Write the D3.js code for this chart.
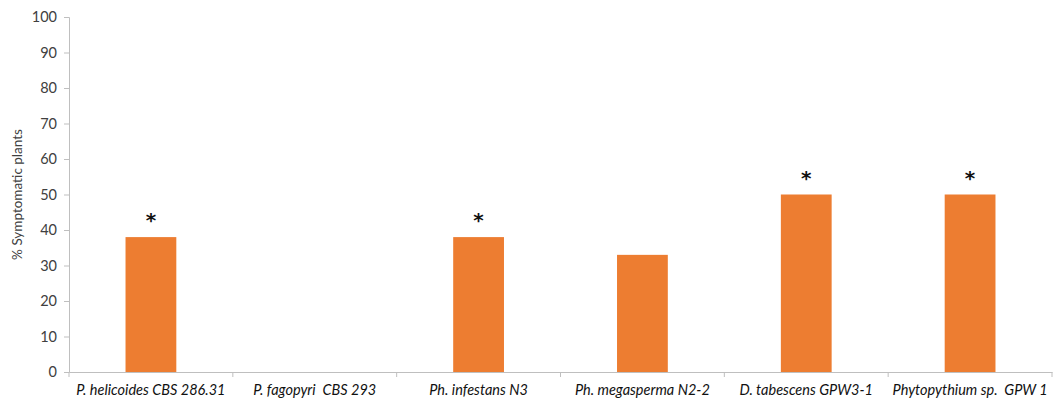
<!DOCTYPE html>
<html><head><meta charset="utf-8">
<script src="https://cdn.jsdelivr.net/npm/d3@7"></script>
<style>body{margin:0;background:#fff}</style>
</head><body>
<svg id="c" width="1055" height="403"></svg>
<script>
const categories = ["P. helicoides CBS 286.31","P. fagopyri  CBS 293","Ph. infestans N3","Ph. megasperma N2-2","D. tabescens GPW3-1","Phytopythium sp.  GPW 1"];
const values = [38, 0, 38, 33, 50, 50];
const significant = [true, false, true, false, true, true];
const yTicks = [0,10,20,30,40,50,60,70,80,90,100];
const yTitle = "% Symptomatic plants";

const data = categories.map((c,i)=>({c, v: values[i], s: significant[i]}));
const svg = d3.select("#c");
const m = {l:69, r:3, t:17, b:31};
const W = 1055, H = 403;
const x = d3.scaleBand().domain(categories).range([m.l, W - m.r]).paddingInner(0.69).paddingOuter(0.345);
const xb = d3.scaleBand().domain(categories).range([m.l, W - m.r]);
const y = d3.scaleLinear().domain([0,100]).range([H - m.b, m.t]);
const font = "Lato, 'Open Sans', sans-serif";
const axisCol = "#bfbfbf";

// y axis
const ya = svg.append("g").attr("transform",`translate(${m.l},0)`)
  .call(d3.axisLeft(y).tickValues(yTicks).tickSize(5).tickPadding(7));
ya.select(".domain").attr("stroke",axisCol);
ya.selectAll(".tick line").attr("stroke",axisCol);
ya.selectAll(".tick text").attr("fill","#404040").style("font-family",font).style("font-size","14.5px");

// bars
svg.append("g").selectAll("rect").data(data).join("rect")
  .attr("x",d=>x(d.c)).attr("width",x.bandwidth())
  .attr("y",d=>y(d.v)).attr("height",d=>y(0)-y(d.v))
  .attr("fill","#ed7d31");

// asterisks
svg.append("g").selectAll("text").data(data.filter(d=>d.s)).join("text")
  .attr("x",d=>xb(d.c) + xb.bandwidth()/2)
  .attr("y",d=>y(d.v)-10)
  .attr("text-anchor","middle")
  .style("font-family","'DejaVu Sans', sans-serif").style("font-size","20px").style("font-weight","bold")
  .attr("fill","#111").text("*");

// x axis
const xa = svg.append("g").attr("transform",`translate(0,${y(0)})`)
  .call(d3.axisBottom(xb).tickSize(0).tickPadding(13));
xa.select(".domain").attr("stroke",axisCol);
xa.selectAll(".tick text").attr("fill","#111").style("font-family",font).style("font-size","14.5px")
  .style("font-style","italic").style("white-space","pre").attr("dy","0.71em");
// category separators
svg.append("g").selectAll("line").data(d3.range(categories.length+1)).join("line")
  .attr("x1",i=>m.l + i*xb.step()).attr("x2",i=>m.l + i*xb.step())
  .attr("y1",y(0)).attr("y2",y(0)+5).attr("stroke",axisCol);

// y title
svg.append("text").attr("transform",`translate(22,${(y(0)+y(100))/2}) rotate(-90)`)
  .attr("text-anchor","middle").style("font-family",font).style("font-size","13.5px")
  .attr("fill","#404040").text(yTitle);
</script>
</body></html>
